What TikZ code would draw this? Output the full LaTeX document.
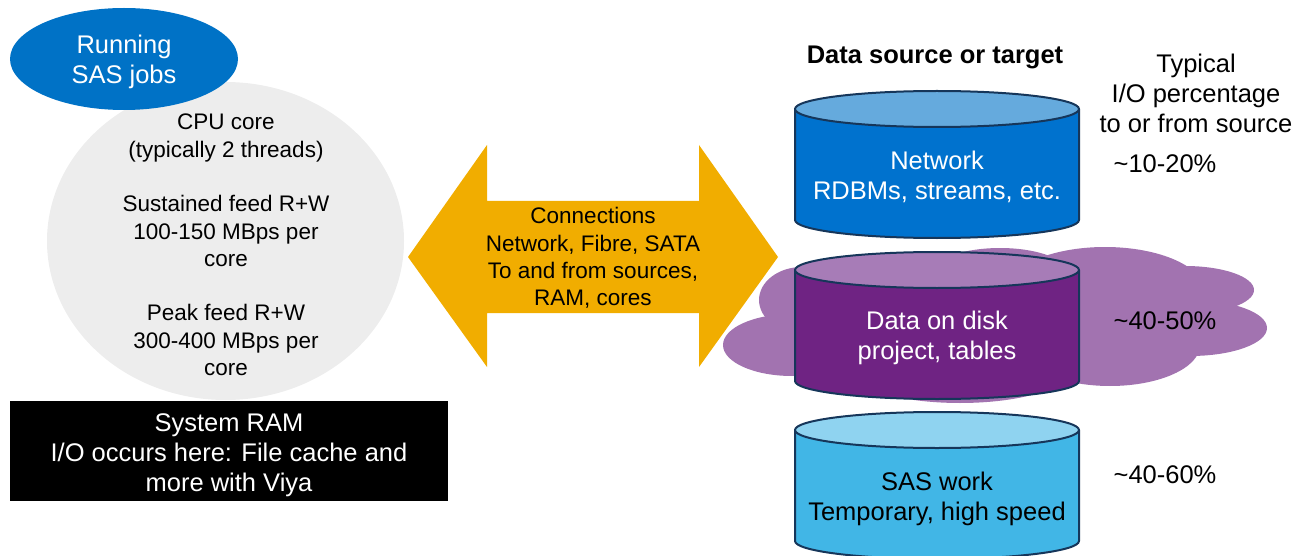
\documentclass[tikz,border=0pt]{standalone}
\usepackage{fontspec}
\setmainfont{Liberation Sans}
\definecolor{jobblue}{RGB}{0,114,198}
\definecolor{coregrey}{RGB}{237,237,237}
\definecolor{arroworange}{RGB}{241,173,0}
\definecolor{cloudpurple}{RGB}{162,115,176}
\definecolor{cylline}{RGB}{22,54,90}
\definecolor{netbody}{RGB}{0,114,206}
\definecolor{nettop}{RGB}{101,170,221}
\definecolor{diskbody}{RGB}{111,35,131}
\definecolor{disktop}{RGB}{167,124,183}
\definecolor{workbody}{RGB}{65,182,230}
\definecolor{worktop}{RGB}{143,211,240}
\begin{document}
\begin{tikzpicture}[x=1pt,y=-1pt,
  txt/.style={align=center, inner sep=0pt},
  bigtxt/.style={txt, font=\fontsize{25.5}{30}\selectfont},
  midtxt/.style={txt, font=\fontsize{22.5}{27.3}\selectfont},
  cylbody/.style={draw=cylline, line width=2pt, line join=round},
]
\useasboundingbox (0,0) rectangle (1311,556);

% left: core and jobs
\fill[coregrey] (225.5,241) ellipse [x radius=178.5, y radius=159];
\fill[jobblue] (124,59) ellipse [x radius=114, y radius=51];
\node[bigtxt, text=white] (jobs) at (124,61.5) {Running\\SAS jobs};
\node[midtxt] (core) at (226,245) {CPU core\\(typically 2 threads)\\[27.3pt]Sustained feed R+W\\100-150 MBps per\\core\\[27.3pt]Peak feed R+W\\300-400 MBps per\\core};

% system RAM
\fill[black] (10,401) rectangle (448,501);
\node[bigtxt, text=white] (ram) at (229,455) {System RAM\\I/O occurs here: File cache and\\more with Viya};

% double arrow
\fill[arroworange] (408,257) -- (487,145) -- (487,201) -- (699,201) -- (699,145)
  -- (778,257) -- (699,367) -- (699,313) -- (487,313) -- (487,367) -- cycle;
\node[midtxt] (conn) at (593,258) {Connections\\Network, Fibre, SATA\\To and from sources,\\RAM, cores};

% cloud
\begin{scope}[cloudpurple]
\fill (802,300) ellipse [x radius=43, y radius=33];
\fill (792,345) ellipse [x radius=69, y radius=31];
\fill (1000,275) ellipse [x radius=70, y radius=27];
\fill (1105,292) ellipse [x radius=100, y radius=45];
\fill (1185,290) ellipse [x radius=69, y radius=24];
\fill (1190,328) ellipse [x radius=77, y radius=28];
\fill (1110,345) ellipse [x radius=90, y radius=41];
\fill (960,370) ellipse [x radius=110, y radius=33];
\fill (850,280) rectangle (1150,370);
\end{scope}

% cylinders
\foreach \t/\b/\body/\top in {109/220/netbody/nettop, 270/381/diskbody/disktop, 430/541/workbody/worktop}{
  \draw[cylbody, fill=\body] (795,\t) -- (795,\b) arc[start angle=180, end angle=0, x radius=142, y radius=18] -- (1079,\t) -- cycle;
  \draw[cylbody, fill=\top] (937,\t) ellipse [x radius=142, y radius=18];
}
\node[bigtxt, text=white] (net) at (937,176.5) {Network\\RDBMs, streams, etc.};
\node[bigtxt, text=white] (disk) at (937,337.5) {Data on disk\\project, tables};
\node[bigtxt] (work) at (937,498.5) {SAS work\\Temporary, high speed};

% headers and percentages
\node[txt, font=\fontsize{25.5}{30}\selectfont\bfseries] (hdr) at (935,57) {Data source or target};
\node[bigtxt] (typ) at (1196,93) {Typical\\I/O percentage\\to or from source};
\node[bigtxt] (p1) at (1165,164) {\textasciitilde 10-20\%};
\node[bigtxt] (p2) at (1165,321) {\textasciitilde 40-50\%};
\node[bigtxt] (p3) at (1165,475) {\textasciitilde 40-60\%};
\end{tikzpicture}
\end{document}
